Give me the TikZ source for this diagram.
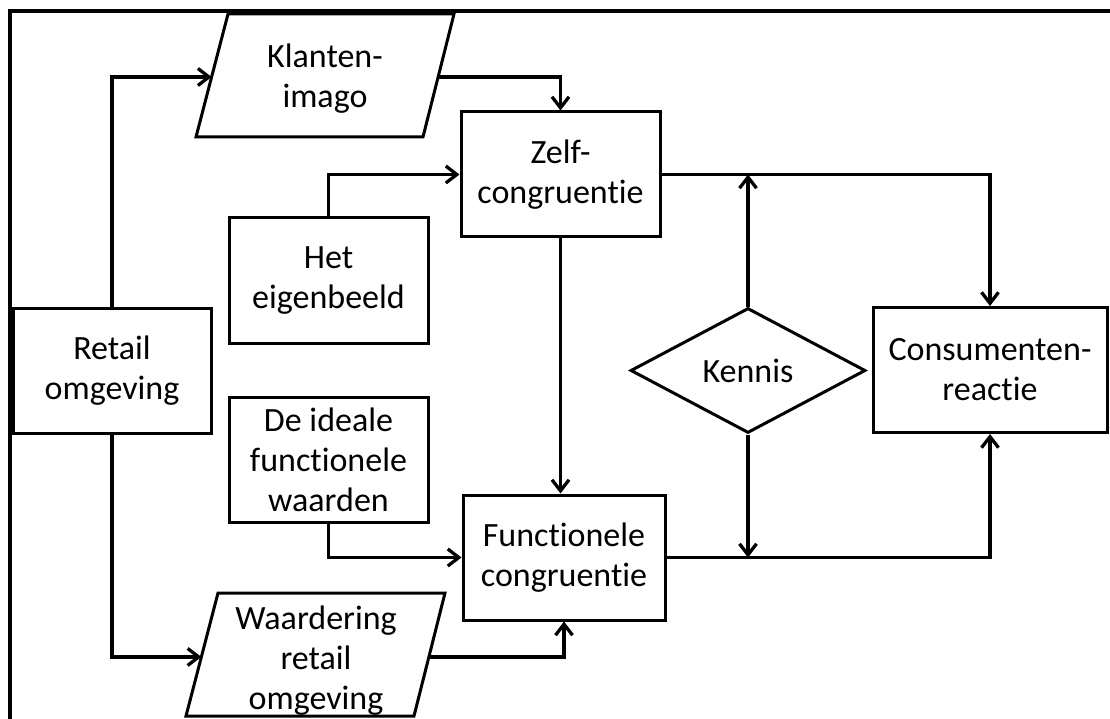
\documentclass[tikz,border=0pt]{standalone}
\usepackage{fontspec}
\setmainfont{Carlito}[Ligatures=NoCommon]
\usetikzlibrary{arrows.meta,shapes.geometric,calc}
\begin{document}
\begin{tikzpicture}[x=1pt,y=-1pt,
  txt/.style={font=\fontsize{34}{40}\selectfont, align=center, inner sep=0pt},
  box/.style={txt, draw, line width=3pt, minimum width=#1, minimum height=125pt},
  box/.default=199pt,
  outline/.style={draw, line width=3pt, line join=miter},
  conn/.style={line width=3.3pt, -{Straight Barb[length=11pt,width=17pt,line width=3.3pt]}},
  frame/.style={line width=3.7pt}
]
\useasboundingbox (0,0) rectangle (1110,719);

% outer frame (left and top edges)
\draw[frame] (10,730) -- (10,11) -- (1120,11);

% rectangular blocks
\node[box=199pt] (zelf)   at (560.5,174.5) {Zelf-\\congruentie};
\node[box=199pt] (eigen)  at (328.5,280.5) {Het\\eigenbeeld};
\node[box=198pt] (retail) at (112,370.5)   {Retail\\omgeving};
\node[box=199pt] (ideal)  at (328.5,459.5) {De ideale\\functionele\\waarden};
\node[box=202pt] (func)   at (564,557.5)   {Functionele\\congruentie};
\node[box=234pt] (cons)   at (990,370)     {Consumenten-\\reactie};

% decision diamond
\node[txt, draw, line width=3pt, shape=diamond, minimum width=235pt,
      minimum height=125pt] (kennis) at (748,370.5) {Kennis};

% parallelogram: Klanten-imago
\coordinate (k1) at (196,137);
\coordinate (k2) at (228,14);
\coordinate (k3) at (454,14);
\coordinate (k4) at (423,137);
\draw[outline] (k1) -- (k2) -- (k3) -- (k4) -- cycle;
\node[txt] (klant) at (325,78.5) {Klanten-\\imago};
\coordinate (klantin)  at ($(k1)!0.488!(k2)$);
\coordinate (klantout) at ($(k4)!0.488!(k3)$);

% parallelogram: Waardering retail omgeving
\coordinate (w1) at (186,716);
\coordinate (w2) at (218,593);
\coordinate (w3) at (445,593);
\coordinate (w4) at (414,716);
\draw[outline] (w1) -- (w2) -- (w3) -- (w4) -- cycle;
\node[txt] (waard) at (316,661) {Waardering\\retail\\omgeving};
\coordinate (waardin)  at ($(w1)!0.48!(w2)$);
\coordinate (waardout) at ($(w4)!0.48!(w3)$);

% connectors
\draw[conn] (retail.north) |- (klantin);
\draw[conn] (retail.south) |- (waardin);
\draw[conn] (klantout) -| (zelf.north);
\draw[conn] (eigen.north) |- (zelf.west);
\draw[conn] (ideal.south) |- (func.west);
\draw[conn] (waardout) -| (func.south);
\draw[conn] (zelf.south) -- (zelf.south |- func.north);
\draw[conn] (zelf.east) -| (cons.north);
\draw[conn] (func.east) -| (cons.south);
\draw[conn] (kennis.north) -- (kennis.north |- zelf.east);
\draw[conn] (kennis.south) -- (kennis.south |- func.east);
\end{tikzpicture}
\end{document}
